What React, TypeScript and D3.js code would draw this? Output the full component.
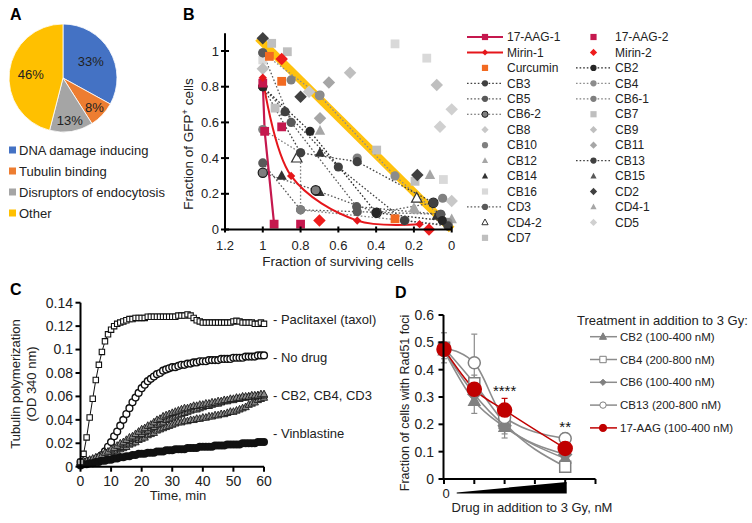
import React from 'react';
import * as d3 from 'd3';

const FONT = '"Liberation Sans", Arial, Helvetica, sans-serif';

/* ---------- Panel A ---------- */
const pieLabels = ['DNA damage inducing', 'Tubulin binding', 'Disruptors of endocytosis', 'Other'];
const pieValues = [33, 8, 13, 46];
const pieColors = ['#4472C4', '#ED7D31', '#A5A5A5', '#FFC000'];

/* ---------- Panel B ---------- */
const bXTicks = [1.2, 1, 0.8, 0.6, 0.4, 0.2, 0];
const bYTicks = [0, 0.2, 0.4, 0.6, 0.8, 1];
const diagonalRef = [[1.025, 1.073], [0, 0]];
const aag1 = [[1, 0.82], [0.99, 0.55], [0.94, 0.03]];
const aag2 = [[0.9, 0.575], [0.8, 0.03]];
const mirin1 = [[1, 0.85], [0.85, 0.3], [0.5, 0.05], [0.17, 0.03]];
const mirin2 = [[0.9, 0.955], [0.7, 0.05], [0.12, 0.0]];
const curcumin = [[0.965, 0.97], [0.9, 0.83], [0.3, 0.06]];
const cb2 = [[1, 0.8], [0.75, 0.55], [0.4, 0.094], [0.05, 0.05]];
const cb3 = [[1, 0.8], [0.8, 0.43], [0.5, 0.38], [0.097, 0.15]];
const cb4 = [[1, 0.99], [0.7, 0.75], [0.3, 0.3], [0.02, 0.04]];
const cb5 = [[1, 0.373], [0.8, 0.11], [0.5, 0.1], [0.058, 0.085]];
const cb61 = [[1, 0.56], [0.8, 0.43], [0.8, 0.11], [0.247, 0.05], [0.018, 0.025]];
const cb62 = [[1, 0.318], [0.72, 0.22], [0.397, 0.094], [0.097, 0.15]];
const cb13 = [[1, 0.8], [0.882, 0.66], [0.6, 0.35], [0.25, 0.05], [0.02, 0.02]];
const cd3 = [[1, 0.99], [0.85, 0.6], [0.503, 0.128], [0.058, 0.085]];
const cb7 = [[0.953, 1.043], [0.87, 0.996], [0.397, 0.445]];
const cb8 = [[0.755, 0.772], [0, 0.16]];
const cb9 = [[0.538, 0.878], [0.079, 0.81], [1, 0.9]];
const cb10 = [[0.85, 0.838], [0.697, 0.753], [0.5, 0.4], [0.048, 0.175]];
const cb11 = [[0.65, 0.823], [0.697, 0.623]];
const cb12 = [[0.697, 0.553], [0.115, 0.305], [0.194, 0.11]];
const cb14 = [[0.697, 0.43], [0.7, 0.21], [0.9, 0.3], [0.079, 0.076]];
const cb15 = [[0.882, 0.66]];
const cb16 = [[0.3, 1.04], [0.132, 0.96], [0.044, 0.28], [1, 0.95]];
const cd2 = [[1, 1.071], [0.8, 0.744], [0.182, 0.305]];
const cd41 = [[0, 0.057], [0.2, 0.12]];
const cd42 = [[0.185, 0.175], [0.82, 0.4]];
const cd5 = [[0, 0.673], [0.062, 0.576]];
const cd7 = [[0.935, 0.68], [0.194, 0.27]];
const bLegendCol1 = ['17-AAG-1', 'Mirin-1', 'Curcumin', 'CB3', 'CB5', 'CB6-2', 'CB8', 'CB10', 'CB12', 'CB14', 'CB16', 'CD3', 'CD4-2', 'CD7'];
const bLegendCol2 = ['17-AAG-2', 'Mirin-2', 'CB2', 'CB4', 'CB6-1', 'CB7', 'CB9', 'CB11', 'CB13', 'CB15', 'CD2', 'CD4-1', 'CD5'];

/* ---------- Panel C ---------- */
const cXTicks = [0, 10, 20, 30, 40, 50, 60];
const cYTicks = [0, 0.02, 0.04, 0.06, 0.08, 0.1, 0.12, 0.14];
const taxol = [
  0.004, 0.011, 0.025, 0.042, 0.058, 0.074, 0.087, 0.098, 0.107, 0.113,
  0.117, 0.12, 0.122, 0.123, 0.124, 0.125, 0.126, 0.126, 0.127, 0.127,
  0.127, 0.127, 0.128, 0.128, 0.128, 0.128, 0.128, 0.128, 0.128, 0.128,
  0.128, 0.128, 0.129, 0.129, 0.129, 0.13, 0.129, 0.127, 0.125, 0.124,
  0.123, 0.123, 0.123, 0.123, 0.123, 0.123, 0.123, 0.123, 0.123, 0.123,
  0.124, 0.1245, 0.124, 0.123, 0.123, 0.123, 0.123, 0.122, 0.122, 0.123,
  0.122];
const noDrug = [
  0.004, 0.004, 0.004, 0.005, 0.005, 0.006, 0.008, 0.01, 0.013, 0.017,
  0.021, 0.026, 0.03, 0.035, 0.04, 0.045, 0.05, 0.055, 0.059, 0.063,
  0.067, 0.07, 0.073, 0.075, 0.077, 0.079, 0.08, 0.082, 0.083, 0.084,
  0.085, 0.085, 0.086, 0.087, 0.087, 0.088, 0.088, 0.089, 0.089, 0.09,
  0.09, 0.09, 0.091, 0.091, 0.091, 0.091, 0.092, 0.092, 0.092, 0.092,
  0.093, 0.093, 0.093, 0.093, 0.094, 0.094, 0.094, 0.094, 0.095, 0.095,
  0.095];
const cb2Tub = [
  0.004, 0.005, 0.005, 0.006, 0.007, 0.008, 0.009, 0.01, 0.012, 0.013,
  0.015, 0.016, 0.018, 0.02, 0.021, 0.023, 0.025, 0.026, 0.028, 0.03,
  0.032, 0.033, 0.035, 0.036, 0.038, 0.04, 0.041, 0.043, 0.044, 0.045,
  0.046, 0.047, 0.048, 0.049, 0.05, 0.05, 0.051, 0.052, 0.052, 0.053,
  0.053, 0.054, 0.054, 0.055, 0.055, 0.056, 0.056, 0.057, 0.057, 0.058,
  0.058, 0.059, 0.059, 0.06, 0.06, 0.06, 0.061, 0.061, 0.061, 0.062,
  0.062];
const cb4Tub = [
  0.004, 0.004, 0.005, 0.005, 0.006, 0.007, 0.008, 0.009, 0.01, 0.011,
  0.013, 0.014, 0.016, 0.017, 0.019, 0.02, 0.022, 0.024, 0.025, 0.027,
  0.028, 0.03, 0.031, 0.033, 0.034, 0.036, 0.037, 0.038, 0.04, 0.041,
  0.042, 0.043, 0.044, 0.045, 0.046, 0.047, 0.048, 0.049, 0.049, 0.05,
  0.051, 0.052, 0.052, 0.053, 0.054, 0.054, 0.055, 0.056, 0.056, 0.057,
  0.057, 0.058, 0.058, 0.059, 0.059, 0.06, 0.06, 0.06, 0.061, 0.061,
  0.061];
const cd3Tub = [
  0.003, 0.004, 0.004, 0.005, 0.005, 0.006, 0.007, 0.008, 0.009, 0.01,
  0.011, 0.012, 0.013, 0.015, 0.016, 0.017, 0.019, 0.02, 0.021, 0.023,
  0.024, 0.025, 0.027, 0.028, 0.029, 0.031, 0.032, 0.033, 0.034, 0.035,
  0.036, 0.037, 0.038, 0.038, 0.039, 0.039, 0.04, 0.04, 0.041, 0.041,
  0.042, 0.042, 0.043, 0.043, 0.044, 0.044, 0.045, 0.045, 0.046, 0.047,
  0.047, 0.048, 0.049, 0.05, 0.051, 0.053, 0.054, 0.055, 0.057, 0.058,
  0.059];
const vinblastine = [
  0.001, 0.002, 0.002, 0.003, 0.003, 0.004, 0.004, 0.005, 0.005, 0.006,
  0.006, 0.007, 0.007, 0.008, 0.008, 0.009, 0.009, 0.01, 0.01, 0.011,
  0.011, 0.011, 0.012, 0.012, 0.012, 0.013, 0.013, 0.013, 0.014, 0.014,
  0.014, 0.015, 0.015, 0.015, 0.015, 0.016, 0.016, 0.016, 0.016, 0.017,
  0.017, 0.017, 0.017, 0.017, 0.018, 0.018, 0.018, 0.018, 0.019, 0.019,
  0.019, 0.019, 0.019, 0.02, 0.02, 0.02, 0.02, 0.02, 0.021, 0.021,
  0.021];
const cLabels = ['- Paclitaxel (taxol)', '- No drug', '- CB2, CB4, CD3', '- Vinblastine'];
const cLabelLevels = [0.126, 0.0935, 0.0605, 0.0285];

/* ---------- Panel D ---------- */
const dLevels = [0, 1, 2, 4];
const dXTicks = [0, 1, 2, 3, 4, 5];
const dYTicks = [0, 0.1, 0.2, 0.3, 0.4, 0.5, 0.6];
const cb2Rad = [0.47, 0.285, 0.19, 0.075];
const cb4Rad = [0.48, 0.35, 0.205, 0.045];
const cb6Rad = [0.47, 0.31, 0.195, 0.09];
const cb13Rad = [0.48, 0.425, 0.225, 0.148];
const aagRad = [0.475, 0.328, 0.252, 0.112];
const cb2RadErr = [0.03, 0.045, 0.04, 0.02];
const cb4RadErr = [0.02, 0.03, 0.03, 0.02];
const cb6RadErr = [0.02, 0.03, 0.03, 0.02];
const cb13RadErr = [0.055, 0.105, 0.03, 0.02];
const aagRadErr = [0.02, 0.03, 0.043, 0.02];
const dLegendLabels = ['CB2 (100-400 nM)', 'CB4 (200-800 nM)', 'CB6 (100-400 nM)', 'CB13 (200-800 nM)', '17-AAG (100-400 nM)'];
const dStars = [['****', 2], ['**', 4]];

/* ---------- helpers ---------- */
type MP = { shape: string; x: number; y: number; s: number; fill: string; stroke?: string; sw?: number };
function Marker({ shape, x, y, s, fill, stroke, sw }: MP) {
  if (shape === 'circle') return <circle cx={x} cy={y} r={s} fill={fill} stroke={stroke || 'none'} strokeWidth={sw || 1} />;
  let d = '';
  if (shape === 'square') d = `M${-s},${-s}H${s}V${s}H${-s}Z`;
  else if (shape === 'diamond') { const h = s * 1.3; d = `M0,${-h}L${h},0L0,${h}L${-h},0Z`; }
  else d = `M0,${-s * 1.1}L${s},${s * 0.75}L${-s},${s * 0.75}Z`;
  return <path d={d} transform={`translate(${x},${y})`} fill={fill} stroke={stroke || 'none'} strokeWidth={sw || 1} />;
}

type BS = { shape: string; fill: string; stroke?: string; line?: string; dash?: string; lw?: number; curve?: boolean };
const DOT = '1.6,2';
const bStyles: Record<string, BS> = {
  '17-AAG-1': { shape: 'square', fill: '#C5184E', line: '#C5184E', lw: 2.2 },
  '17-AAG-2': { shape: 'square', fill: '#C5184E' },
  'Mirin-1': { shape: 'diamond', fill: '#E5161B', line: '#E5161B', lw: 2, curve: true },
  'Mirin-2': { shape: 'diamond', fill: '#EE1C1C' },
  'Curcumin': { shape: 'square', fill: '#F26A21' },
  'CB2': { shape: 'circle', fill: '#262626', line: '#262626', dash: DOT },
  'CB3': { shape: 'circle', fill: '#404040', line: '#404040', dash: DOT },
  'CB4': { shape: 'circle', fill: '#8c8c8c', line: '#8c8c8c', dash: DOT },
  'CB5': { shape: 'circle', fill: '#595959', line: '#595959', dash: DOT },
  'CB6-1': { shape: 'circle', fill: '#7f7f7f', line: '#7f7f7f', dash: DOT },
  'CB6-2': { shape: 'circle', fill: '#7f7f7f', stroke: '#1a1a1a', line: '#595959', dash: DOT },
  'CB7': { shape: 'square', fill: '#BFBFBF' },
  'CB8': { shape: 'diamond', fill: '#C8C8C8' },
  'CB9': { shape: 'diamond', fill: '#BFBFBF' },
  'CB10': { shape: 'circle', fill: '#808080' },
  'CB11': { shape: 'diamond', fill: '#A6A6A6' },
  'CB12': { shape: 'triangle', fill: '#A6A6A6' },
  'CB13': { shape: 'circle', fill: '#404040', line: '#404040', dash: DOT },
  'CB14': { shape: 'triangle', fill: '#333333' },
  'CB15': { shape: 'triangle', fill: '#595959' },
  'CB16': { shape: 'square', fill: '#D9D9D9' },
  'CD2': { shape: 'diamond', fill: '#404040' },
  'CD3': { shape: 'circle', fill: '#595959', line: '#595959', dash: DOT },
  'CD4-1': { shape: 'triangle', fill: '#A6A6A6' },
  'CD4-2': { shape: 'triangle', fill: '#ffffff', stroke: '#333333' },
  'CD5': { shape: 'diamond', fill: '#D0D0D0' },
  'CD7': { shape: 'square', fill: '#BFBFBF' },
};
const bData: [string, number[][]][] = [
  ['CB16', cb16], ['CB9', cb9], ['CD5', cd5], ['CB8', cb8], ['CB7', cb7], ['CD7', cd7], ['CB11', cb11], ['CB10', cb10],
  ['CB12', cb12], ['CD4-1', cd41], ['CD2', cd2], ['CB14', cb14], ['CB15', cb15], ['CD4-2', cd42],
  ['CB4', cb4], ['CB5', cb5], ['CB6-1', cb61], ['CB6-2', cb62], ['CD3', cd3], ['CB3', cb3], ['CB13', cb13], ['CB2', cb2],
  ['Curcumin', curcumin], ['17-AAG-1', aag1], ['17-AAG-2', aag2], ['Mirin-1', mirin1], ['Mirin-2', mirin2],
];

export default function App() {
  /* A */
  const pcx = 63, pcy = 78, pr = 54;
  const arcs = d3.pie<number>().sort(null).value((d) => d)(pieValues);
  const arcGen = d3.arc<any>().innerRadius(0).outerRadius(pr);
  const total = d3.sum(pieValues);

  /* B */
  const xB = d3.scaleLinear().domain([1.2, 0]).range([225, 451.7]);
  const yB = d3.scaleLinear().domain([0, 1]).range([229.5, 51]);
  const lineB = (pts: number[][], curve: boolean) =>
    d3.line<number[]>().x((p) => xB(p[0])).y((p) => yB(p[1])).curve(curve ? d3.curveCatmullRom.alpha(0.5) : d3.curveLinear)(pts) as string;

  /* C */
  const xC = d3.scaleLinear().domain([0, 60]).range([80.5, 264]);
  const yC = d3.scaleLinear().domain([0, 0.14]).range([466.7, 302.7]);
  const lineC = d3.line<number>().x((_, i) => xC(i)).y((v) => yC(v));

  /* D */
  const xD = d3.scaleLinear().domain([0, 5]).range([444, 595.5]);
  const yD = d3.scaleLinear().domain([0, 0.6]).range([479, 315]);
  const lineD = d3.line<number>().x((_, i) => xD(dLevels[i])).y((v) => yD(v)).curve(d3.curveMonotoneX);
  const dSeries = [
    { vals: cb2Rad, err: cb2RadErr, shape: 'triangle', fill: '#808080', stroke: '#808080', color: '#8c8c8c', s: 5.5, ls: 3.5 },
    { vals: cb4Rad, err: cb4RadErr, shape: 'square', fill: '#ffffff', stroke: '#808080', color: '#8c8c8c', s: 5.5, ls: 3.2 },
    { vals: cb6Rad, err: cb6RadErr, shape: 'diamond', fill: '#808080', stroke: '#808080', color: '#8c8c8c', s: 4.8, ls: 2.4 },
    { vals: cb13Rad, err: cb13RadErr, shape: 'circle', fill: '#ffffff', stroke: '#808080', color: '#8c8c8c', s: 6, ls: 3.2 },
    { vals: aagRad, err: aagRadErr, shape: 'circle', fill: '#C00000', stroke: '#C00000', color: '#C00000', s: 7, ls: 3.6 },
  ];

  const tick = { fontSize: 13, fill: '#222' };

  return (
    <svg width={752} height={523} style={{ position: 'absolute', left: 0, top: 0, fontFamily: FONT }}>
      <rect width={752} height={523} fill="#fff" />

      {/* ===== Panel A ===== */}
      <text x={10} y={20} fontSize={16} fontWeight="bold">A</text>
      <g transform={`translate(${pcx},${pcy})`}>
        {arcs.map((a, i) => (
          <path key={i} d={arcGen(a) as string} fill={pieColors[i]} stroke="#fff" strokeWidth={0.8} />
        ))}
        {arcs.map((a, i) => {
          const k = pieValues[i] < 20 ? pr * 0.8 : pr * 0.6;
          const c = d3.arc<any>().innerRadius(k).outerRadius(k).centroid(a);
          return (
            <text key={i} x={c[0]} y={c[1]} dy="0.35em" textAnchor="middle" fontSize={13} fill="#222">
              {Math.round((pieValues[i] / total) * 100)}%
            </text>
          );
        })}
      </g>
      {pieLabels.map((l, i) => (
        <g key={l} transform={`translate(0,${150 + i * 21})`}>
          <rect x={9} y={-3.5} width={7} height={7} fill={pieColors[i]} />
          <text x={19} y={0} dy="0.35em" fontSize={13} fill="#222">{l}</text>
        </g>
      ))}

      {/* ===== Panel B ===== */}
      <text x={183} y={20} fontSize={16} fontWeight="bold">B</text>
      <path d={lineB(diagonalRef, false)} stroke="#FFC20E" strokeWidth={8} fill="none" />
      {bData.filter(([n]) => bStyles[n].line).map(([n, pts]) => {
        const st = bStyles[n];
        return <path key={n} d={lineB(pts, !!st.curve)} fill="none" stroke={st.line} strokeWidth={st.lw || 1.3} strokeDasharray={st.dash} />;
      })}
      {bData.map(([n, pts]) => {
        const st = bStyles[n];
        const s = n.startsWith('Mirin-1') ? 3.2 : st.shape === 'circle' ? 4.6 : st.shape === 'diamond' ? 4.8 : st.shape === 'triangle' ? 5.2 : 4.4;
        return pts.map((p, j) => (
          <Marker key={n + j} shape={st.shape} x={xB(p[0])} y={yB(p[1])} s={s} fill={st.fill} stroke={st.stroke} sw={1.2} />
        ));
      })}
      {/* axes */}
      <line x1={225} x2={225} y1={yB(1.1)} y2={yB(0)} stroke="#000" strokeWidth={2} />
      <line x1={225} x2={xB(0)} y1={yB(0)} y2={yB(0)} stroke="#000" strokeWidth={2} />
      {bYTicks.map((t) => (
        <g key={t}>
          <line x1={221} x2={229} y1={yB(t)} y2={yB(t)} stroke="#000" strokeWidth={2} />
          <text x={219} y={yB(t)} dy="0.35em" textAnchor="end" {...tick}>{t}</text>
        </g>
      ))}
      {bXTicks.map((t) => (
        <g key={t}>
          <line x1={xB(t)} x2={xB(t)} y1={yB(0) - 3} y2={yB(0) + 3} stroke="#000" strokeWidth={2} />
          <text x={xB(t)} y={250} textAnchor="middle" {...tick}>{t}</text>
        </g>
      ))}
      <text x={338} y={266} textAnchor="middle" fontSize={13.5} fill="#222">Fraction of surviving cells</text>
      <text transform="translate(193,144) rotate(-90)" textAnchor="middle" fontSize={13.5} fill="#222">
        Fraction of GFP<tspan fontSize={9} dy={-5}>+</tspan><tspan dy={5}> cells</tspan>
      </text>
      {/* legend */}
      {[bLegendCol1, bLegendCol2].map((col, ci) =>
        col.map((n, ri) => {
          const st = bStyles[n];
          const y = 37 + ri * 15.45;
          const x0 = ci === 0 ? 467 : 576, x1 = ci === 0 ? 503 : 611;
          const mx = (x0 + x1) / 2;
          return (
            <g key={n}>
              {st.line && <line x1={x0} x2={x1} y1={y} y2={y} stroke={st.line} strokeWidth={st.lw || 1.2} strokeDasharray={st.dash} />}
              <Marker shape={st.shape} x={mx} y={y} s={st.shape === 'diamond' ? (n === 'Mirin-1' ? 2.4 : 2.8) : 3.1} fill={st.fill} stroke={st.stroke} sw={1} />
              <text x={ci === 0 ? 507 : 615} y={y} dy="0.35em" fontSize={12} fill="#222">{n}</text>
            </g>
          );
        })
      )}

      {/* ===== Panel C ===== */}
      <text x={10} y={295} fontSize={16} fontWeight="bold">C</text>
      {noDrug.map((v, i) => (
        <circle key={'n' + i} cx={xC(i)} cy={yC(v)} r={3.4} fill="#fff" stroke="#111" strokeWidth={1.4} />
      ))}
      {[cd3Tub, cb4Tub, cb2Tub].map((arr, k) =>
        arr.map((v, i) => (
          <Marker key={'t' + k + '-' + i} shape="triangle" x={xC(i)} y={yC(v)} s={3.6} fill="#8a8a8a" stroke="#1a1a1a" sw={0.9} />
        ))
      )}
      {vinblastine.map((v, i) => (
        <circle key={'v' + i} cx={xC(i)} cy={yC(v)} r={4} fill="#111" />
      ))}
      <path d={lineC(taxol) as string} fill="none" stroke="#111" strokeWidth={1} />
      {taxol.map((v, i) => (
        <Marker key={'x' + i} shape="square" x={xC(i)} y={yC(v)} s={2.7} fill="#fff" stroke="#111" sw={1.1} />
      ))}
      <line x1={80.5} x2={80.5} y1={yC(0.14)} y2={yC(0)} stroke="#000" strokeWidth={2} />
      <line x1={80.5} x2={xC(60)} y1={yC(0)} y2={yC(0)} stroke="#000" strokeWidth={2} />
      {cYTicks.map((t) => (
        <g key={t}>
          <line x1={75.5} x2={80.5} y1={yC(t)} y2={yC(t)} stroke="#000" strokeWidth={2} />
          <text x={73} y={yC(t)} dy="0.35em" textAnchor="end" fontSize={14} fill="#222">{t}</text>
        </g>
      ))}
      {cXTicks.map((t) => (
        <g key={t}>
          <line x1={xC(t)} x2={xC(t)} y1={yC(0)} y2={yC(0) + 5} stroke="#000" strokeWidth={2} />
          <text x={xC(t)} y={486} textAnchor="middle" fontSize={14} fill="#222">{t}</text>
        </g>
      ))}
      <text x={178} y={500} textAnchor="middle" fontSize={13} fill="#222">Time, min</text>
      <text transform="translate(20,384) rotate(-90)" textAnchor="middle" fontSize={13} fill="#222">Tubulin polymerization</text>
      <text transform="translate(36,384) rotate(-90)" textAnchor="middle" fontSize={13} fill="#222">(OD 340 nm)</text>
      {cLabels.map((l, i) => (
        <text key={l} x={273} y={yC(cLabelLevels[i])} dy="0.35em" fontSize={13} fill="#222">{l}</text>
      ))}

      {/* ===== Panel D ===== */}
      <text x={395} y={298} fontSize={16} fontWeight="bold">D</text>
      {dSeries.map((s, k) =>
        s.vals.map((v, i) => {
          const x = xD(dLevels[i]);
          return (
            <g key={'e' + k + i} stroke={s.color} strokeWidth={1.2}>
              <line x1={x} x2={x} y1={yD(v - s.err[i])} y2={yD(v + s.err[i])} />
              <line x1={x - 3} x2={x + 3} y1={yD(v - s.err[i])} y2={yD(v - s.err[i])} />
              <line x1={x - 3} x2={x + 3} y1={yD(v + s.err[i])} y2={yD(v + s.err[i])} />
            </g>
          );
        })
      )}
      {dSeries.map((s, k) => (
        <path key={'l' + k} d={lineD(s.vals) as string} fill="none" stroke={s.color} strokeWidth={1.6} />
      ))}
      {dSeries.map((s, k) =>
        s.vals.map((v, i) => (
          <Marker key={'m' + k + i} shape={s.shape} x={xD(dLevels[i])} y={yD(v)} s={s.s} fill={s.fill} stroke={s.stroke} sw={1.5} />
        ))
      )}
      {dStars.map(([txt, lvl]) => (
        <text key={txt as string} x={xD(lvl as number)} y={lvl === 2 ? 396 : 432} textAnchor="middle" fontSize={15} fill="#111">{txt}</text>
      ))}
      <line x1={443.5} x2={443.5} y1={yD(0.6)} y2={yD(0)} stroke="#000" strokeWidth={2} />
      <line x1={443.5} x2={xD(5)} y1={yD(0)} y2={yD(0)} stroke="#000" strokeWidth={2} />
      {dYTicks.map((t) => (
        <g key={t}>
          <line x1={438.5} x2={443.5} y1={yD(t)} y2={yD(t)} stroke="#000" strokeWidth={2} />
          <text x={434} y={yD(t)} dy="0.35em" textAnchor="end" fontSize={14} fill="#222">{t}</text>
        </g>
      ))}
      {dXTicks.map((t) => (
        <line key={t} x1={xD(t)} x2={xD(t)} y1={yD(0)} y2={yD(0) + 5} stroke="#000" strokeWidth={2} />
      ))}
      <text x={xD(0) + 2} y={493} dy="0.35em" textAnchor="middle" fontSize={13} fill="#222">0</text>
      <path d={`M${xD(0.42)},${492.5}L${xD(4.05)},${482}L${xD(4.05)},${493.5}L${xD(0.42)},${493.5}Z`} fill="#000" />
      <text x={532} y={512} textAnchor="middle" fontSize={13} fill="#222">Drug in addition to 3 Gy, nM</text>
      <text transform="translate(409,403) rotate(-90)" textAnchor="middle" fontSize={12.5} fill="#222">Fraction of cells with Rad51 foci</text>
      <text x={577} y={325} fontSize={13} fill="#222">Treatment in addition to 3 Gy:</text>
      {dSeries.map((s, k) => {
        const y = 336.7 + k * 22.8;
        return (
          <g key={'lg' + k}>
            <line x1={590} x2={617} y1={y} y2={y} stroke={s.color} strokeWidth={1.5} />
            <Marker shape={s.shape} x={603} y={y} s={s.ls} fill={s.fill} stroke={s.stroke} sw={1} />
            <text x={620} y={y} dy="0.35em" fontSize={11.5} fill="#222">{dLegendLabels[k]}</text>
          </g>
        );
      })}
    </svg>
  );
}
